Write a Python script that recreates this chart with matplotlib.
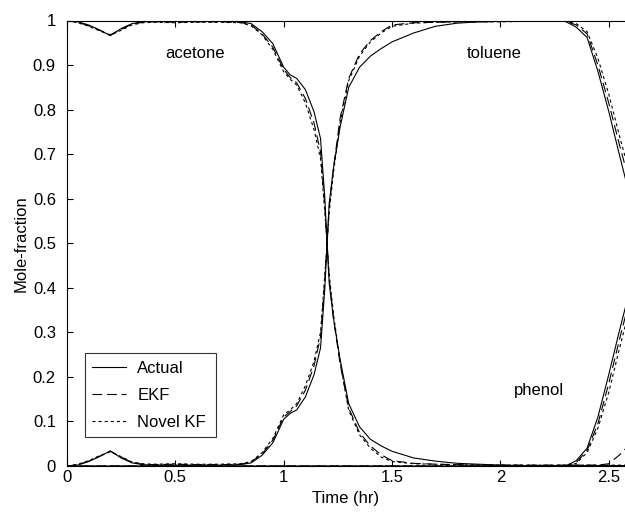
import matplotlib
matplotlib.use("Agg")
import matplotlib.pyplot as plt
from matplotlib.ticker import FuncFormatter

plt.rcParams['font.family'] = ['Liberation Sans', 'DejaVu Sans']
plt.rcParams['lines.scale_dashes'] = False

time_hr = [0.0, 0.05, 0.1, 0.15, 0.2, 0.25, 0.3, 0.35, 0.4, 0.5, 0.6, 0.7, 0.8, 0.85,
           0.9, 0.95, 1.0, 1.03, 1.06, 1.1, 1.14, 1.17, 1.19, 1.2, 1.21, 1.23, 1.26,
           1.3, 1.35, 1.4, 1.45, 1.5, 1.6, 1.7, 1.8, 1.9, 2.0, 2.1, 2.2, 2.3, 2.35,
           2.4, 2.45, 2.5, 2.55, 2.6]

# Actual
acetone_actual = [1.0, 0.997, 0.99, 0.979, 0.966, 0.982, 0.993, 0.997, 0.998, 0.998, 0.998, 0.998, 0.997, 0.993,
                  0.975, 0.948, 0.895, 0.878, 0.870, 0.845, 0.795, 0.735, 0.60, 0.50, 0.41, 0.33, 0.24,
                  0.14, 0.088, 0.06, 0.045, 0.033, 0.018, 0.011, 0.006, 0.004, 0.002, 0.001, 0.001, 0.001, 0.001,
                  0.001, 0.001, 0.001, 0.001, 0.001]
toluene_actual = [0.0, 0.002, 0.01, 0.021, 0.034, 0.018, 0.007, 0.003, 0.002, 0.002, 0.002, 0.002, 0.003, 0.007,
                  0.024, 0.052, 0.105, 0.118, 0.126, 0.155, 0.205, 0.265, 0.40, 0.50, 0.59, 0.67, 0.76,
                  0.85, 0.895, 0.92, 0.937, 0.952, 0.972, 0.987, 0.994, 0.997, 0.998, 0.999, 0.999, 0.998, 0.985,
                  0.962, 0.886, 0.796, 0.697, 0.60]
phenol_actual = [0.0, 0.0, 0.0, 0.0, 0.0, 0.0, 0.0, 0.0, 0.0, 0.0, 0.0, 0.0, 0.0, 0.0,
                 0.0, 0.0, 0.0, 0.0, 0.0, 0.0, 0.0, 0.0, 0.0, 0.0, 0.0, 0.0, 0.0,
                 0.0, 0.0, 0.0, 0.0, 0.0, 0.0, 0.0, 0.0, 0.0, 0.0, 0.0, 0.0, 0.0, 0.012,
                 0.04, 0.11, 0.205, 0.305, 0.40]

# EKF estimates
acetone_ekf = [1.0, 0.996, 0.988, 0.978, 0.968, 0.980, 0.992, 0.996, 0.997, 0.996, 0.997, 0.997, 0.996, 0.990,
               0.970, 0.940, 0.890, 0.872, 0.860, 0.825, 0.770, 0.705, 0.58, 0.50, 0.42, 0.33, 0.23,
               0.13, 0.075, 0.045, 0.025, 0.012, 0.006, 0.004, 0.003, 0.002, 0.002, 0.002, 0.002, 0.002, 0.002,
               0.002, 0.002, 0.005, 0.025, 0.05]
toluene_ekf = [0.0, 0.003, 0.011, 0.022, 0.033, 0.020, 0.008, 0.004, 0.003, 0.004, 0.003, 0.003, 0.004, 0.009,
               0.027, 0.058, 0.110, 0.122, 0.135, 0.170, 0.225, 0.290, 0.42, 0.50, 0.58, 0.67, 0.78,
               0.87, 0.925, 0.955, 0.975, 0.99, 0.995, 0.996, 0.997, 0.997, 0.998, 0.998, 0.998, 0.998, 0.99,
               0.97, 0.90, 0.815, 0.72, 0.63]
phenol_ekf = [0.0, 0.0, 0.0, 0.0, 0.0, 0.0, 0.0, 0.0, 0.0, 0.0, 0.0, 0.0, 0.0, 0.0,
              0.0, 0.0, 0.0, 0.0, 0.0, 0.0, 0.0, 0.0, 0.0, 0.0, 0.0, 0.0, 0.0,
              0.0, 0.0, 0.0, 0.0, 0.0, 0.0, 0.0, 0.0, 0.0, 0.0, 0.0, 0.0, 0.0, 0.008,
              0.035, 0.095, 0.185, 0.285, 0.38]

# Novel KF estimates
acetone_nkf = [1.0, 0.995, 0.987, 0.977, 0.967, 0.978, 0.990, 0.995, 0.996, 0.995, 0.996, 0.996, 0.995, 0.988,
               0.968, 0.935, 0.885, 0.868, 0.855, 0.815, 0.755, 0.690, 0.57, 0.50, 0.43, 0.34, 0.235,
               0.125, 0.07, 0.04, 0.02, 0.01, 0.005, 0.004, 0.003, 0.002, 0.002, 0.002, 0.002, 0.002, 0.002,
               0.002, 0.002, 0.002, 0.002, 0.002]
toluene_nkf = [0.0, 0.004, 0.012, 0.023, 0.032, 0.021, 0.009, 0.005, 0.004, 0.005, 0.004, 0.004, 0.005, 0.010,
               0.030, 0.062, 0.115, 0.126, 0.140, 0.180, 0.235, 0.300, 0.43, 0.50, 0.57, 0.66, 0.77,
               0.865, 0.92, 0.952, 0.972, 0.987, 0.994, 0.996, 0.997, 0.997, 0.997, 0.998, 0.998, 0.998, 0.993,
               0.975, 0.915, 0.835, 0.74, 0.65]
phenol_nkf = [0.0, 0.0, 0.0, 0.0, 0.0, 0.0, 0.0, 0.0, 0.0, 0.0, 0.0, 0.0, 0.0, 0.0,
              0.0, 0.0, 0.0, 0.0, 0.0, 0.0, 0.0, 0.0, 0.0, 0.0, 0.0, 0.0, 0.0,
              0.0, 0.0, 0.0, 0.0, 0.0, 0.0, 0.0, 0.0, 0.0, 0.0, 0.0, 0.0, 0.0, 0.006,
              0.03, 0.085, 0.165, 0.265, 0.36]

legend_labels = ["Actual", "EKF", "Novel KF"]
xticks = [0, 0.5, 1, 1.5, 2, 2.5]
yticks = [0, 0.1, 0.2, 0.3, 0.4, 0.5, 0.6, 0.7, 0.8, 0.9, 1.0]

fig = plt.figure(figsize=(6.25, 5.12), dpi=100)
ax = fig.add_axes([67/625, 46/512, 558/625, 445.5/512])

lw = 0.8
ekf_dash = (7, 3.5)
nkf_dash = (2.2, 2.2)
FS = 12

for series, style in [((acetone_actual, toluene_actual, phenol_actual), 'solid'),
                      ((acetone_ekf, toluene_ekf, phenol_ekf), 'ekf'),
                      ((acetone_nkf, toluene_nkf, phenol_nkf), 'nkf')]:
    for i, ys in enumerate(series):
        kw = dict(color='black', lw=lw)
        if style == 'ekf':
            kw['dashes'] = ekf_dash
        elif style == 'nkf':
            kw['dashes'] = nkf_dash
        ax.plot(time_hr, ys, **kw,
                label=(legend_labels[['solid', 'ekf', 'nkf'].index(style)] if i == 0 else None))

ax.set_xlim(0, 2.575)
ax.set_ylim(0, 1)
ax.set_xticks(xticks)
ax.set_yticks(yticks)
fmt = FuncFormatter(lambda v, p: '%g' % v)
ax.xaxis.set_major_formatter(fmt)
ax.yaxis.set_major_formatter(fmt)
ax.tick_params(direction='in', length=4, width=0.8, labelsize=FS, top=True, right=False)
ax.tick_params(axis='y', pad=8)
ax.tick_params(axis='x', pad=3)
for s in ['left', 'bottom', 'top']:
    ax.spines[s].set_linewidth(0.8)
ax.spines['right'].set_visible(False)

ax.set_xlabel('Time (hr)', fontsize=FS, labelpad=4)
ax.set_ylabel('Mole-fraction', fontsize=FS, labelpad=3)

ax.text(0.59, 0.926, 'acetone', fontsize=FS, ha='center', va='center')
ax.text(1.97, 0.926, 'toluene', fontsize=FS, ha='center', va='center')
ax.text(2.18, 0.17, 'phenol', fontsize=FS, ha='center', va='center')

leg = ax.legend(loc='lower left', bbox_to_anchor=(0.032, 0.065, 0.235, 0.189), mode='expand',
                borderaxespad=0, fancybox=False, edgecolor='black', fontsize=FS,
                handlelength=2.0, handletextpad=0.7, labelspacing=0.72, borderpad=0.45)
leg.get_frame().set_linewidth(0.8)

fig.savefig('out.png', dpi=100)
